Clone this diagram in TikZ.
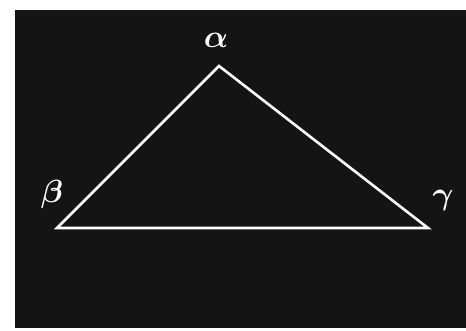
\documentclass[tikz,border=0pt]{standalone}
\begin{document}
\begin{tikzpicture}[x=1pt,y=1pt,
  edge/.style={draw=white, line width=2.6pt, line join=miter},
  lbl/.style={text=white, font=\boldmath, inner sep=0pt}]
\useasboundingbox (0,0) rectangle (466,331);
\fill[white] (0,0) rectangle (466,331);
\fill[black!92] (15,3) rectangle (466,321);
\coordinate (A) at (219,265);
\coordinate (B) at (57,103);
\coordinate (C) at (428,103);
\draw[edge] (A) -- (B) -- (C) -- cycle;
\node[lbl] (la) at (216,291) {\scalebox{3.2}{$\alpha$}};
\node[lbl] (lb) at (52,136) {\scalebox{3.2}{$\beta$}};
\node[lbl] (lc) at (443,130) {\scalebox{3.2}{$\gamma$}};
\end{tikzpicture}
\end{document}
